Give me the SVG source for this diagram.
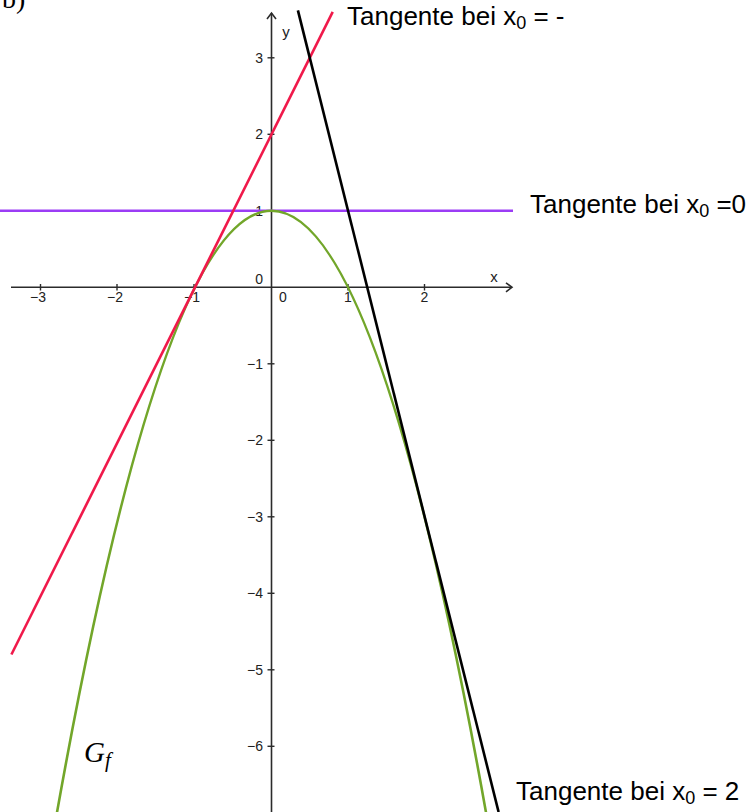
<svg xmlns="http://www.w3.org/2000/svg" width="752" height="812" viewBox="0 0 752 812">
<defs>
<style>
.axis{stroke:#2b2b2b;stroke-width:1.6;fill:none}
.tick{stroke:#2b2b2b;stroke-width:1.4}
.num{font-family:"Liberation Sans",Arial,sans-serif;font-size:14px;fill:#222}
.big{font-family:"Liberation Sans",Arial,sans-serif;font-size:26px;fill:#000}
.curve{fill:none;stroke-width:2.6;stroke-linecap:butt}
</style>
<marker id="arr" markerWidth="12" markerHeight="12" refX="9" refY="6" orient="auto" markerUnits="userSpaceOnUse">
<path d="M3,1.5 L9,6 L3,10.5" fill="none" stroke="#2b2b2b" stroke-width="1.6"/>
</marker>
</defs>
<rect width="752" height="812" fill="#fff"/>
<text x="2" y="8" font-family="'Liberation Serif','Times New Roman',serif" font-size="28" fill="#000">b)</text>
<g id="axes">
<line class="axis" x1="11" y1="287.3" x2="512" y2="287.3" marker-end="url(#arr)"/>
<line class="axis" x1="271.5" y1="812" x2="271.5" y2="13" marker-end="url(#arr)"/>
<g id="xticks">
<line class="tick" x1="40.5" y1="284" x2="40.5" y2="290.5"/>
<line class="tick" x1="117" y1="284" x2="117" y2="290.5"/>
<line class="tick" x1="194" y1="284" x2="194" y2="290.5"/>
<line class="tick" x1="348" y1="284" x2="348" y2="290.5"/>
<line class="tick" x1="424.5" y1="284" x2="424.5" y2="290.5"/>
</g>
<g id="yticks">
<line class="tick" x1="267.5" y1="57.8" x2="274.5" y2="57.8"/>
<line class="tick" x1="267.5" y1="134.3" x2="274.5" y2="134.3"/>
<line class="tick" x1="267.5" y1="210.8" x2="274.5" y2="210.8"/>
<line class="tick" x1="267.5" y1="363.8" x2="274.5" y2="363.8"/>
<line class="tick" x1="267.5" y1="440.3" x2="274.5" y2="440.3"/>
<line class="tick" x1="267.5" y1="516.8" x2="274.5" y2="516.8"/>
<line class="tick" x1="267.5" y1="593.3" x2="274.5" y2="593.3"/>
<line class="tick" x1="267.5" y1="669.8" x2="274.5" y2="669.8"/>
<line class="tick" x1="267.5" y1="746.3" x2="274.5" y2="746.3"/>
</g>
<g id="xlabels" class="num" text-anchor="middle">
<text x="38" y="302">−3</text>
<text x="115" y="302">−2</text>
<text x="192" y="302">−1</text>
<text x="283" y="302">0</text>
<text x="348" y="302">1</text>
<text x="424.5" y="302">2</text>
<text x="494" y="282" font-size="15">x</text>
</g>
<g id="ylabels" class="num" text-anchor="end">
<text x="263" y="62.8">3</text>
<text x="263" y="139.3">2</text>
<text x="263" y="215.8">1</text>
<text x="263" y="284">0</text>
<text x="263" y="368.8">−1</text>
<text x="263" y="445.3">−2</text>
<text x="263" y="521.8">−3</text>
<text x="263" y="598.3">−4</text>
<text x="263" y="674.8">−5</text>
<text x="263" y="751.3">−6</text>
<text x="286" y="37" text-anchor="middle" font-size="15">y</text>
</g>
</g>
<g id="curves">
<line id="tangent0" class="curve" x1="0" y1="210.8" x2="513" y2="210.8" stroke="#9b3cf5"/>
<path id="parabola" class="curve" d="M53.5,832.2 Q271.5,-410.6 489.5,832.2" stroke="#72a62a"/>
<line id="tangentm1" class="curve" x1="11.4" y1="654.5" x2="332.7" y2="11.9" stroke="#f0194a"/>
<line id="tangent2" class="curve" x1="297.9" y1="10.4" x2="498.6" y2="812" stroke="#000"/>
</g>
<g id="labels" class="big">
<text x="347" y="25">Tangente bei x<tspan font-size="18" dy="4">0</tspan><tspan dy="-4"> = -</tspan></text>
<text x="530" y="213">Tangente bei x<tspan font-size="18" dy="4">0</tspan><tspan dy="-4"> =0</tspan></text>
<text x="516" y="800">Tangente bei x<tspan font-size="18" dy="4">0</tspan><tspan dy="-4"> = 2</tspan></text>
<text x="84" y="762" font-family="'Liberation Serif','Times New Roman',serif" font-style="italic" font-size="29">G<tspan font-size="21" dy="5">f</tspan></text>
</g>
</svg>
